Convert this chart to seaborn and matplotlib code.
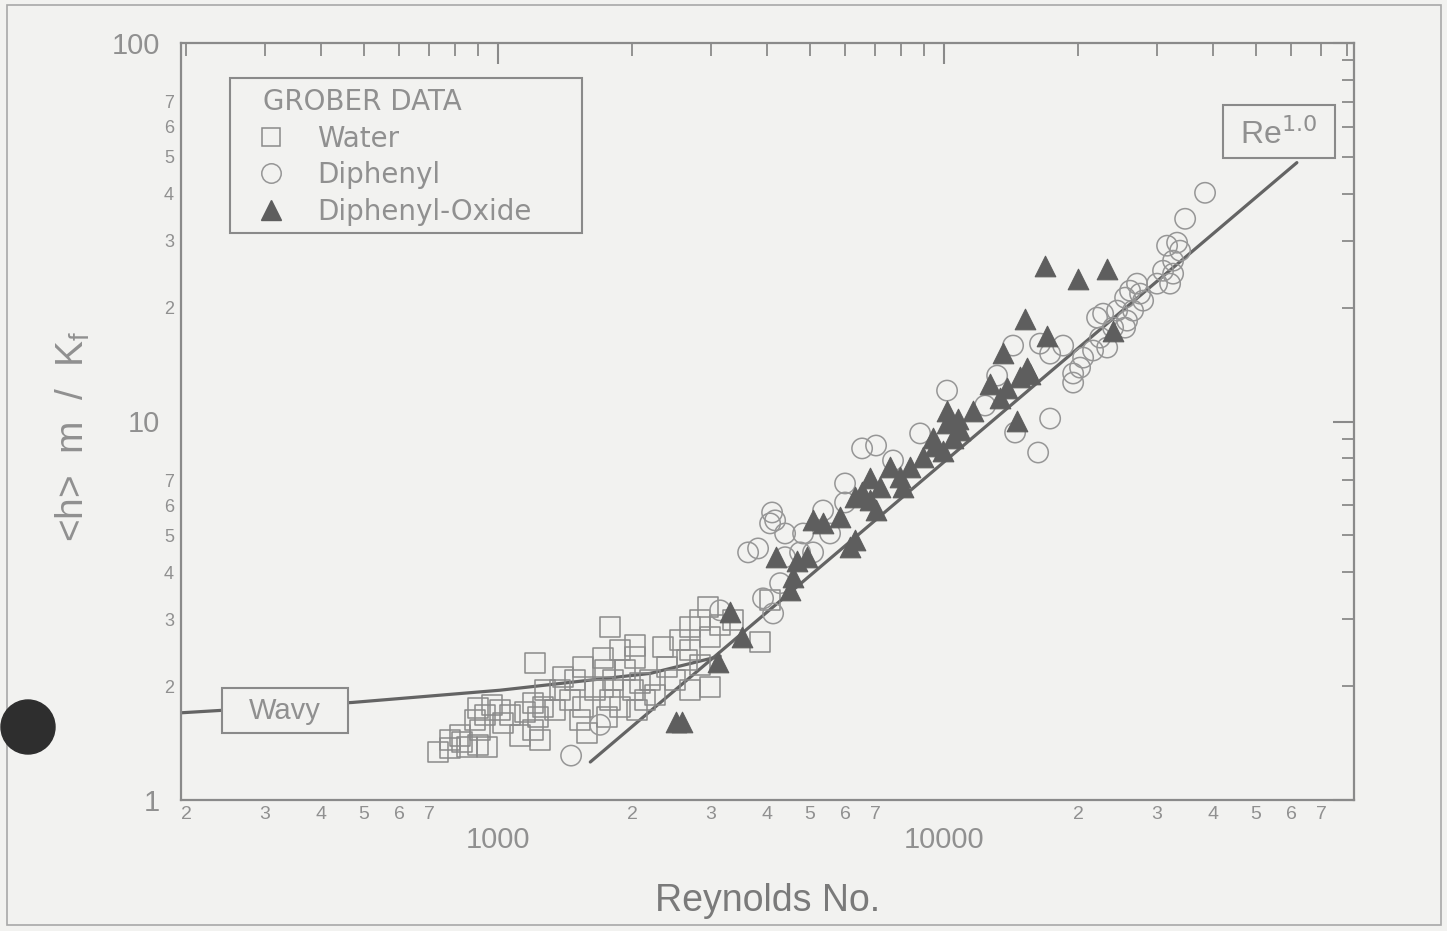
import matplotlib
matplotlib.use("Agg")
import numpy as np
import pandas as pd
import matplotlib.pyplot as plt
import seaborn as sns
from matplotlib.lines import Line2D
from matplotlib.patches import Rectangle, Ellipse
from matplotlib.ticker import FixedLocator, FixedFormatter, LogLocator, FuncFormatter

# ---- Gröber condensation data -------------------------------------------
water_re = [734, 780, 780, 830, 852, 902, 945, 888, 902, 935, 970, 911, 1026, 1121,
            1198, 1242, 1198, 1261, 1229, 1211, 1377, 1399, 1450, 1551, 1527, 1584,
            1551, 1720, 1720, 1783, 1756, 1783, 1877, 1811, 2007, 2082, 2050, 2029,
            2029, 2192, 2344, 2393, 2695, 2695, 2653, 2695, 2988, 2988, 2958, 3868,
            3365, 1342, 1650, 1926, 2249, 2494, 2838, 3147, 2136, 1150, 1064, 822,
            1877, 2559, 2838, 4073, 1010, 1275, 1488, 1738]
water_nu = [1.34, 1.44, 1.37, 1.42, 1.38, 1.40, 1.38, 1.63, 1.75, 1.68, 1.78, 1.53,
            1.60, 1.48, 1.53, 1.44, 1.80, 1.76, 1.66, 2.30, 1.95, 2.11, 1.84, 1.76,
            1.63, 1.50, 2.24, 2.37, 1.99, 1.84, 1.66, 2.86, 1.76, 2.07, 1.95, 2.04,
            1.73, 2.56, 2.38, 2.07, 2.53, 2.24, 2.86, 2.49, 2.34, 1.95, 1.99, 2.69,
            3.23, 2.61, 2.99, 1.73, 1.95, 2.20, 1.89, 2.07, 2.27, 2.90, 1.84, 1.71,
            1.68, 1.48, 2.49, 2.64, 2.99, 3.37, 1.73, 1.95, 2.07, 2.20]

diphenyl_re = [1458, 1693, 3147, 3928, 4137, 4289, 3636, 3828, 4115, 4180, 4073, 4401,
               4829, 4755, 5085, 4401, 5354, 5551, 5998, 5998, 6549, 7039, 7684, 8837,
               10155, 13150, 14280, 16410, 17290, 18490, 14430, 17290, 16250, 19470,
               19470, 20180, 20500, 21580, 23210, 22380, 23930, 22030, 22730, 24430,
               25720, 26530, 25460, 26120, 27080, 27510, 27940, 30030, 32120, 32620,
               30970, 32620, 31620, 33300, 33820, 34710, 38470, 25460, 12360]
diphenyl_nu = [1.31, 1.58, 3.17, 3.41, 3.11, 3.74, 4.51, 4.62, 5.75, 5.48, 5.38, 5.06,
               5.06, 4.51, 4.51, 4.38, 5.82, 5.06, 6.11, 6.86, 8.49, 8.64, 7.89, 9.30,
               12.07, 13.22, 15.87, 16.06, 15.11, 15.87, 9.35, 10.18, 8.28, 13.39,
               12.67, 13.88, 14.75, 15.40, 15.68, 16.66, 17.70, 18.81, 19.27, 19.63,
               18.47, 19.63, 21.24, 22.16, 23.13, 21.77, 20.86, 23.13, 23.13, 24.58,
               25.02, 26.60, 29.14, 29.68, 28.27, 34.32, 40.20, 17.70, 11.02]

oxide_re = [2507, 2586, 3113, 3313, 3525, 4202, 4516, 4586, 4682, 4930, 5085, 5354,
            5846, 6155, 6316, 6316, 6549, 6826, 6826, 7039, 7187, 7567, 7967, 8091,
            8390, 8974, 9448, 9949, 10480, 10155, 10155, 11610, 12680, 13350, 13840,
            13560, 14580, 14810, 15350, 15590, 15190, 17020, 16850, 19970, 23210,
            23930, 9546, 10750, 10860]
oxide_nu = [1.61, 1.61, 2.31, 3.13, 2.69, 4.38, 3.58, 3.88, 4.27, 4.38, 5.48, 5.38,
            5.58, 4.65, 4.85, 6.30, 6.50, 7.07, 6.19, 5.82, 6.70, 7.56, 7.12, 6.70,
            7.56, 8.04, 9.07, 8.38, 9.07, 10.69, 9.88, 10.69, 12.60, 11.57, 12.29,
            15.21, 10.06, 13.07, 13.88, 13.39, 18.70, 16.87, 25.80, 23.84, 25.33,
            17.39, 8.64, 10.18, 9.47]

# correlation curves
wavy_re = [195, 471, 1010, 2193, 3148]
wavy_nu = [1.70, 1.81, 1.95, 2.16, 2.40]
turb_re = [1610, 61800]
turb_nu = [1.26, 48.3]

series_labels = ["Water", "Diphenyl", "Diphenyl-Oxide"]
legend_title = "GROBER DATA"
x_major = [1000, 10000]
x_major_labels = ["1000", "10000"]
y_major = [1, 10, 100]
y_major_labels = ["1", "10", "100"]
minor_digits_shown = [2, 3, 4, 5, 6, 7]

# ---- style ---------------------------------------------------------------
BG = "#f2f2f0"
AXC = "#8a8a8a"
TXT = "#909090"
LBL = "#7a7a7a"
LINEC = "#646464"
SQC = "#8a8a8a"
CIRC = "#969696"
TRIC = "#5e5e5e"

sns.set_theme(style="white")
plt.rcParams["font.family"] = ["Liberation Sans", "DejaVu Sans"]
plt.rcParams["mathtext.fontset"] = "dejavusans"

fig = plt.figure(figsize=(14.47, 9.31), dpi=100)
fig.patch.set_facecolor(BG)
W, H = 1447.0, 931.0
AXW, AXH = 1354 - 181, 800 - 43
ax = fig.add_axes([181 / W, 1 - 800 / H, AXW / W, AXH / H])
ax.set_facecolor(BG)
ax.set_xscale("log")
ax.set_yscale("log")


def ax_xy(px, py):
    """Pixel position on the page -> axes fraction."""
    return (px - 181) / AXW, (800 - py) / AXH


water = pd.DataFrame({"Re": water_re, "Nu": water_nu})
diphenyl = pd.DataFrame({"Re": diphenyl_re, "Nu": diphenyl_nu})
oxide = pd.DataFrame({"Re": oxide_re, "Nu": oxide_nu})

sns.lineplot(x=wavy_re, y=wavy_nu, ax=ax, color=LINEC, linewidth=2.3,
             sort=False, estimator=None, zorder=2)
sns.lineplot(x=turb_re, y=turb_nu, ax=ax, color=LINEC, linewidth=2.3,
             sort=False, estimator=None, zorder=2)

sns.scatterplot(data=water, x="Re", y="Nu", ax=ax, marker="s", s=210,
                facecolor="none", edgecolor=SQC, linewidth=1.1, zorder=3)
sns.scatterplot(data=diphenyl, x="Re", y="Nu", ax=ax, marker="o", s=215,
                facecolor="none", edgecolor=CIRC, linewidth=1.1, zorder=3)
sns.scatterplot(data=oxide, x="Re", y="Nu", ax=ax, marker="^", s=220,
                color=TRIC, edgecolor=TRIC, linewidth=0.8, zorder=4)

ax.set_xlim(194.6, 83000)
ax.set_ylim(1, 100)

# ---- ticks -----------------------------------------------------------------
def minor_fmt(v, pos):
    d = int(round(v / 10 ** np.floor(np.log10(v) + 1e-9)))
    return str(d) if d in minor_digits_shown else ""

for axis, majors, labels in ((ax.xaxis, x_major, x_major_labels),
                             (ax.yaxis, y_major, y_major_labels)):
    axis.set_major_locator(FixedLocator(majors))
    axis.set_major_formatter(FixedFormatter(labels))
    axis.set_minor_locator(LogLocator(base=10, subs=np.arange(2, 10), numticks=20))
    axis.set_minor_formatter(FuncFormatter(minor_fmt))

ax.tick_params(which="both", direction="in", top=True, right=True,
               color=AXC, labelcolor=TXT)
ax.tick_params(which="major", length=15, width=1.5)
ax.tick_params(which="minor", length=9, width=1.3)
ax.tick_params(axis="x", which="major", labelsize=21, pad=19)
ax.tick_params(axis="x", which="minor", labelsize=14, pad=4)
ax.tick_params(axis="y", which="major", labelsize=21, pad=15)
ax.tick_params(axis="y", which="minor", labelsize=13, pad=5)

for sp in ax.spines.values():
    sp.set_color(AXC)
    sp.set_linewidth(1.6)

ax.set_xlabel("Reynolds No.", fontsize=27, color=LBL)
ax.xaxis.set_label_coords(0.5, -0.11)
ax.xaxis.label.set_va("top")
ax.set_ylabel(r"<h>  m  /  K$_\mathregular{f}$", fontsize=28, color=TXT)
ax.yaxis.set_label_coords(-0.076, 0.48)

# ---- legend ----------------------------------------------------------------
handles = [
    Line2D([], [], ls="none", marker="s", ms=13, mfc="none", mec=SQC, mew=1.1),
    Line2D([], [], ls="none", marker="o", ms=14, mfc="none", mec=CIRC, mew=1.1),
    Line2D([], [], ls="none", marker="^", ms=14, mfc=TRIC, mec=TRIC),
]
leg = ax.legend(handles, series_labels, title=legend_title, loc="upper left",
                bbox_to_anchor=ax_xy(263, 88),
                frameon=False, borderpad=0, borderaxespad=0,
                handlelength=0.6, handletextpad=1.35, labelspacing=0.31,
                prop={"family": "DejaVu Sans", "size": 20},
                title_fontproperties={"family": "DejaVu Sans", "size": 20},
                alignment="left")
for t in leg.get_texts():
    t.set_color(TXT)
leg.get_title().set_color(TXT)
ax.add_patch(Rectangle(ax_xy(230, 233), 352 / AXW, 155 / AXH,
                       transform=ax.transAxes, fill=False, ec=AXC, lw=1.5, zorder=5))

# ---- correlation labels ------------------------------------------------------
ax.add_patch(Rectangle(ax_xy(1223, 158), 112 / AXW, 53 / AXH, transform=ax.transAxes,
                       fc=BG, ec=AXC, lw=1.5, zorder=5))
ax.text(*ax_xy(1279, 135), r"Re$^{1.0}$", transform=ax.transAxes,
        ha="center", va="center", fontsize=23, color=TXT, zorder=6)
ax.add_patch(Rectangle(ax_xy(222, 733), 126 / AXW, 45 / AXH, transform=ax.transAxes,
                       fc=BG, ec=AXC, lw=1.5, zorder=5))
ax.text(*ax_xy(285, 711), "Wavy", transform=ax.transAxes,
        ha="center", va="center", fontsize=21, color=TXT, zorder=6)

# ---- page frame and binder mark ---------------------------------------------------
fig.add_artist(Rectangle((7 / W, 1 - 925 / H), (1441 - 7) / W, (925 - 5) / H,
                         transform=fig.transFigure, fill=False, ec="#a8a8a8", lw=1.2))
fig.add_artist(Ellipse((28 / W, 1 - 727 / H), 54 / W, 54 / H,
                       transform=fig.transFigure, fc="#2e2e2e", ec="#2e2e2e"))

fig.savefig("out.png", dpi=100, facecolor=BG)
